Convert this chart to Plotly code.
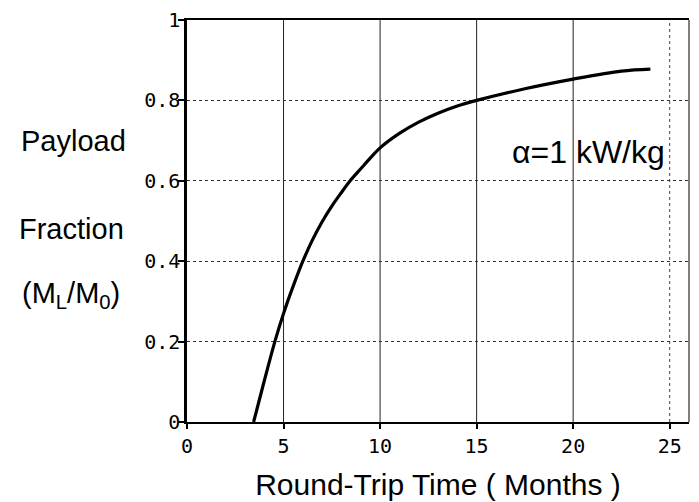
import plotly.graph_objects as go

# Data
round_trip_months = [3.45, 4.0, 4.55, 5.0, 5.5, 6.0, 6.5, 7.0, 7.5, 8.0, 8.45, 9.0, 9.5,
                     10.0, 11.0, 12.0, 13.0, 14.0, 15.0, 17.5, 20.0, 22.5, 24.0]
payload_fraction = [0.0, 0.102, 0.2, 0.27, 0.338, 0.40, 0.453, 0.498, 0.537, 0.571, 0.600,
                    0.630, 0.657, 0.682, 0.718, 0.746, 0.768, 0.786, 0.800, 0.829,
                    0.853, 0.873, 0.878]

x_ticks = [0, 5, 10, 15, 20, 25]
x_tick_labels = ["0", "5", "10", "15", "20", "25"]
y_ticks = [0, 0.2, 0.4, 0.6, 0.8, 1]
y_tick_labels = ["0", "0.2", "0.4", "0.6", "0.8", "1"]
solid_grid_x = [5, 10, 15, 20]
dotted_grid_x = [25]

fig = go.Figure()
fig.add_trace(go.Scatter(
    x=round_trip_months, y=payload_fraction, mode="lines",
    line=dict(color="black", width=3.2, shape="spline", smoothing=1.0),
    showlegend=False, hoverinfo="skip",
))

shapes = []
for v in solid_grid_x:
    shapes.append(dict(type="line", xref="x", yref="paper", x0=v, x1=v, y0=0, y1=1,
                       line=dict(color="#222", width=1), layer="below"))
for v in dotted_grid_x:
    shapes.append(dict(type="line", xref="x", yref="paper", x0=v, x1=v, y0=0, y1=1,
                       line=dict(color="#444", width=1, dash="dot"), layer="below"))
# right border
shapes.append(dict(type="line", xref="paper", yref="paper", x0=1, x1=1, y0=0, y1=1,
                   line=dict(color="#555", width=1.5)))

label_font = dict(family="Liberation Sans, Arial, sans-serif", size=29, color="black")
annotations = [
    dict(text="Payload", xref="paper", yref="paper", x=-0.226, y=0.70,
         showarrow=False, font=label_font, xanchor="center", yanchor="middle"),
    dict(text="Fraction", xref="paper", yref="paper", x=-0.23, y=0.48,
         showarrow=False, font=label_font, xanchor="center", yanchor="middle"),
    dict(text="(M<sub>L</sub>/M<sub>0</sub>)", xref="paper", yref="paper", x=-0.232, y=0.315,
         showarrow=False, font=label_font, xanchor="center", yanchor="middle"),
    dict(text="α=1 kW/kg", xref="x", yref="y", x=20.8, y=0.672,
         showarrow=False, font=dict(family="Liberation Sans, Arial, sans-serif", size=32, color="black"),
         xanchor="center", yanchor="middle"),
]

tick_font = dict(family="DejaVu Sans Mono, monospace", size=20, color="black")

fig.update_layout(
    width=699, height=502,
    margin=dict(l=187, r=10, t=20, b=80),
    paper_bgcolor="white", plot_bgcolor="white",
    shapes=shapes, annotations=annotations,
    xaxis=dict(
        range=[0, 26], tickmode="array", tickvals=x_ticks, ticktext=x_tick_labels,
        showgrid=False, zeroline=False,
        showline=True, linecolor="black", linewidth=2, mirror=True,
        ticks="outside", ticklen=5, tickwidth=1.5, tickcolor="black",
        tickfont=tick_font,
        title=dict(text="Round-Trip Time ( Months )",
                   font=dict(family="Liberation Sans, Arial, sans-serif", size=30, color="black"),
                   standoff=17),
        automargin=False,
    ),
    yaxis=dict(
        range=[0, 1], tickmode="array", tickvals=y_ticks, ticktext=y_tick_labels,
        showgrid=True, gridcolor="#333", gridwidth=1, griddash="dot",
        zeroline=False,
        showline=True, linecolor="black", linewidth=2.5, mirror=False,
        ticks="outside", ticklen=6, tickwidth=1.5, tickcolor="black",
        tickfont=tick_font, ticklabelstandoff=-6,
        automargin=False,
    ),
)

fig.write_html("out.html", config={"displayModeBar": False},
               post_script="document.body.style.margin='0';")
